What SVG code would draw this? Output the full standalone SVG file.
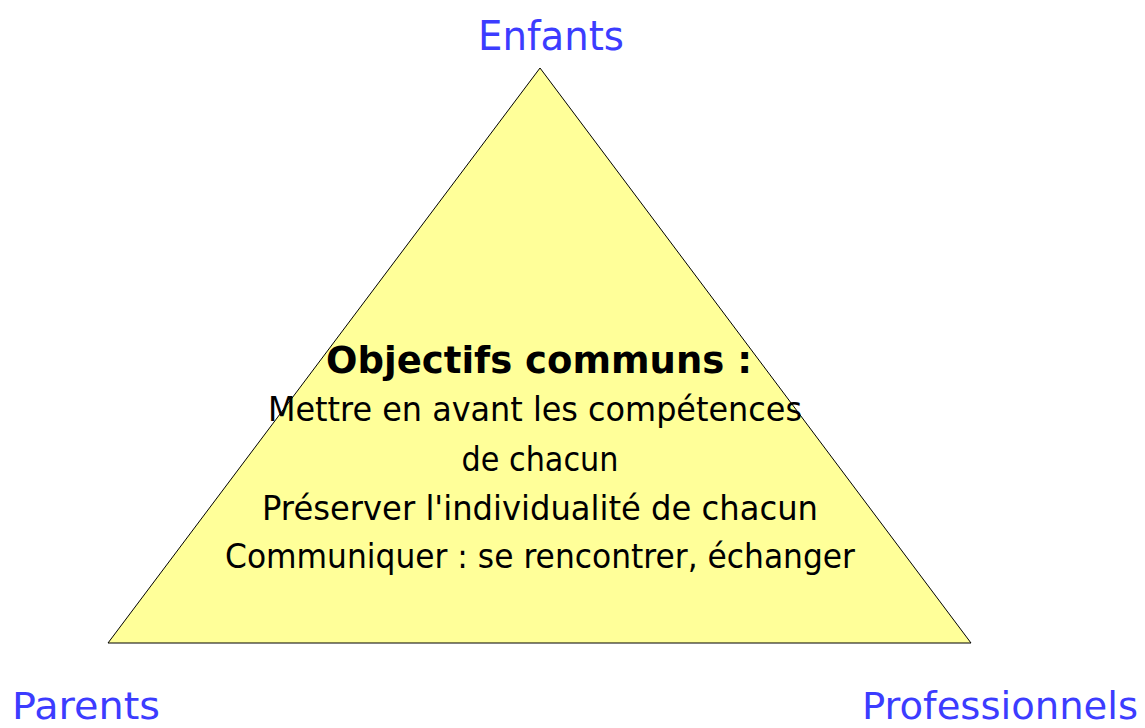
<svg xmlns="http://www.w3.org/2000/svg" width="1145" height="728" viewBox="0 0 1145 728">
<style>
.lbl{font-family:"DejaVu Sans","Liberation Sans",sans-serif;font-size:40px;fill:#3c3cff;}
.lbl2{font-family:"DejaVu Sans","Liberation Sans",sans-serif;font-size:37px;fill:#3c3cff;}
.body{font-family:"Comic Sans MS","DejaVu Sans",sans-serif;font-size:33px;fill:#000;text-anchor:middle;}
.title{font-family:"Comic Sans MS","DejaVu Sans",sans-serif;font-size:38px;font-weight:bold;fill:#000;text-anchor:middle;}
</style>
<rect width="1145" height="728" fill="#fff"/>
<g id="triangle">
<polygon points="540,68 108,643 971,643" fill="#ffff99" stroke="#000" stroke-width="1"/>
</g>
<g id="labels">
<text class="lbl" x="478" y="50" textLength="146" lengthAdjust="spacingAndGlyphs">Enfants</text>
<text class="lbl2" x="12" y="719" textLength="148" lengthAdjust="spacingAndGlyphs">Parents</text>
<text class="lbl2" x="862" y="719" textLength="276" lengthAdjust="spacingAndGlyphs">Professionnels</text>
</g>
<g id="center-text">
<text class="title" x="539" y="373" textLength="426" lengthAdjust="spacingAndGlyphs">Objectifs communs :</text>
<text class="body" x="535" y="421" textLength="534" lengthAdjust="spacingAndGlyphs">Mettre en avant les compétences</text>
<text class="body" x="540" y="471" textLength="157" lengthAdjust="spacingAndGlyphs">de chacun</text>
<text class="body" x="540" y="520" textLength="556" lengthAdjust="spacingAndGlyphs">Préserver l'individualité de chacun</text>
<text class="body" x="540" y="568" textLength="630" lengthAdjust="spacingAndGlyphs">Communiquer : se rencontrer, échanger</text>
</g>
<g id="connectors"></g>
</svg>
